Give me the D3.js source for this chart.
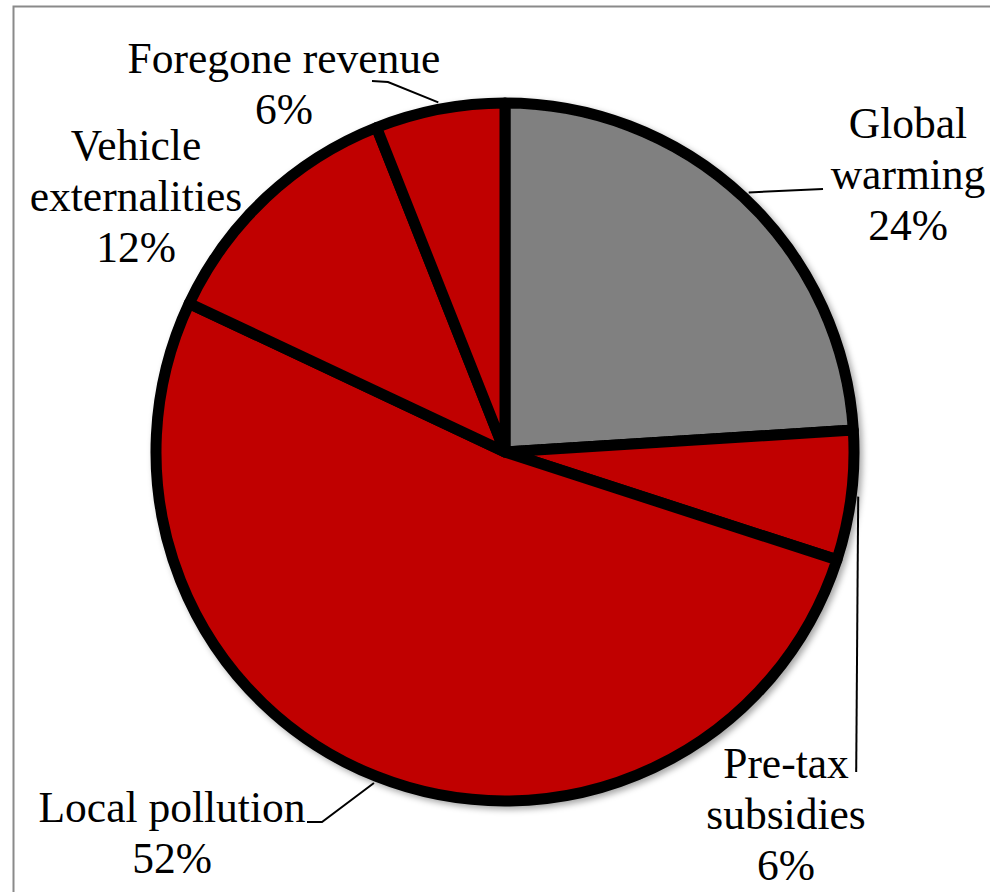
<!DOCTYPE html>
<html>
<head>
<meta charset="utf-8">
<script src="https://cdn.jsdelivr.net/npm/d3@7"></script>
<style>
  html, body { margin: 0; padding: 0; background: #ffffff; }
  svg { display: block; }
</style>
</head>
<body>
<div id="chart"></div>
<script>
// Shares of the total, clockwise from 12 o'clock
const categories = ["Global warming", "Pre-tax subsidies", "Local pollution", "Vehicle externalities", "Foregone revenue"];
const values = [24, 6, 52, 12, 6];
const labelLines = [["Global", "warming"], ["Pre-tax", "subsidies"], ["Local pollution"], ["Vehicle", "externalities"], ["Foregone revenue"]];
const sliceColors = ["#808080", "#c00000", "#c00000", "#c00000", "#c00000"];

const W = 990, H = 892;
const cx = 505, cy = 452, R = 349;

// Label placement (centre x, first baseline) and leader bends
const labelLayout = [
  { x: 908, y: 138, leader: [[823, 189]] },
  { x: 786, y: 778, leader: "vertical", leaderEnd: 772 },
  { x: 172, y: 822, leader: [[322, 822], [307, 822]] },
  { x: 136, y: 160, leader: null },
  { x: 284, y: 73,  leader: [[388, 82], [372, 81]] }
];
const lineGap = 51;

const svg = d3.select("#chart").append("svg")
  .attr("width", W).attr("height", H);

// outer frame
svg.append("rect")
  .attr("x", 13.5).attr("y", 6.5)
  .attr("width", W + 20).attr("height", H + 20)
  .attr("fill", "none").attr("stroke", "#8a8a8a").attr("stroke-width", 2);

const defs = svg.append("defs");
const shadow = defs.append("filter").attr("id", "pieShadow")
  .attr("x", "-10%").attr("y", "-10%").attr("width", "120%").attr("height", "120%");
shadow.append("feDropShadow")
  .attr("dx", 3).attr("dy", 3).attr("stdDeviation", 3)
  .attr("flood-color", "#000").attr("flood-opacity", 0.35);

const pie = d3.pie().sort(null).value(d => d).startAngle(0).endAngle(2 * Math.PI);
const arcs = pie(values);

const arc = d3.arc().innerRadius(0).outerRadius(R);
const rimArc = d3.arc().innerRadius(R + 7).outerRadius(R + 7);

const g = svg.append("g").attr("transform", `translate(${cx},${cy})`);

// leader lines (drawn beneath the pie)
const leaderG = svg.append("g").attr("fill", "none").attr("stroke", "#000").attr("stroke-width", 2);
arcs.forEach((a, i) => {
  const lay = labelLayout[i];
  if (!lay.leader) return;
  const c = rimArc.centroid(a);
  const start = [cx + c[0], cy + c[1]];
  let pts;
  if (lay.leader === "vertical") {
    pts = [start, [start[0] - 2, lay.leaderEnd]];
  } else {
    pts = [start, ...lay.leader];
  }
  leaderG.append("path").attr("d", d3.line()(pts));
});

const pieG = g.append("g").attr("filter", "url(#pieShadow)");
pieG.selectAll("path.slice")
  .data(arcs)
  .join("path")
  .attr("class", "slice")
  .attr("d", arc)
  .attr("fill", (d, i) => sliceColors[i])
  .attr("stroke", "#000")
  .attr("stroke-width", 11)
  .attr("stroke-linejoin", "round");

// labels
const labelG = svg.append("g")
  .attr("font-family", "'Liberation Serif', Tinos, 'Times New Roman', Times, 'DejaVu Serif', serif")
  .attr("font-size", 43.5)
  .attr("fill", "#000")
  .attr("text-anchor", "middle");
arcs.forEach((a, i) => {
  const lay = labelLayout[i];
  const lines = labelLines[i].concat([a.data + "%"]);
  const t = labelG.append("text").attr("x", lay.x).attr("y", lay.y);
  lines.forEach((ln, k) => {
    t.append("tspan").attr("x", lay.x).attr("y", lay.y + k * lineGap).text(ln);
  });
});
</script>
</body>
</html>
